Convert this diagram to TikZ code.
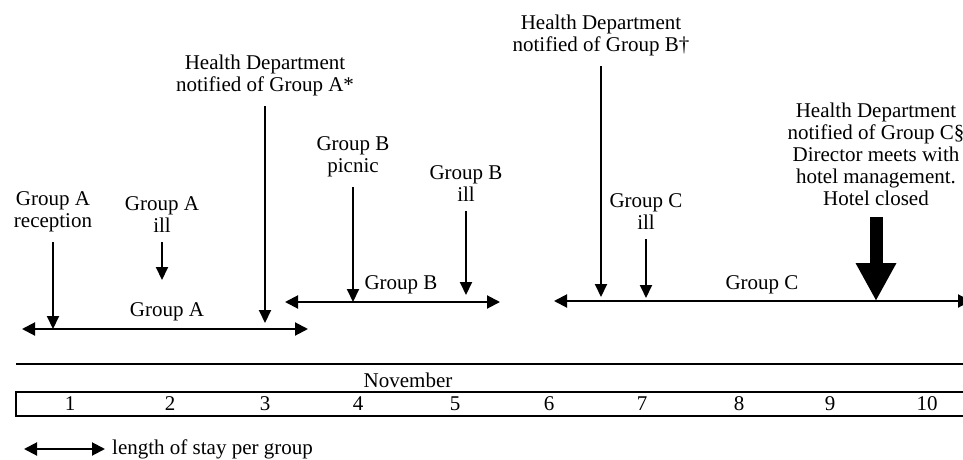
\documentclass[tikz,border=0pt]{standalone}
\usepackage{fontspec}
\setmainfont{Liberation Serif}
\usetikzlibrary{arrows.meta,positioning}

\begin{document}
\begin{tikzpicture}[
    x=1pt, y=-1pt,
    node distance=7pt,
    lbl/.style={align=center, inner sep=0pt, anchor=north, font=\fontsize{21}{22}\selectfont},
    grp/.style={inner sep=0pt, font=\fontsize{21}{22}\selectfont},
    stay/.style={{Triangle[width=13pt,length=13pt]}-{Triangle[width=13pt,length=13pt]}, line width=2pt},
    evt/.style={-{Triangle[width=12pt,length=13pt]}, line width=2pt, shorten <=10pt},
    bigevt/.style={-{Triangle[width=38pt,length=38pt]}, line width=13pt, shorten <=11pt},
    rule/.style={line width=2pt}
]
    \useasboundingbox (0,0) rectangle (963,460);

    % event labels
    \node [lbl] (recA) at (53,191) {Group A\\reception};
    \node [lbl] (illA) at (162,196) {Group A\\ill};
    \node [lbl] (hdA) at (265,55) {Health Department\\notified of Group A*};
    \node [lbl] (picB) at (353,136) {Group B\\picnic};
    \node [lbl] (illB) at (466,165) {Group B\\ill};
    \node [lbl] (hdB) at (601,15) {Health Department\\notified of Group B†};
    \node [lbl] (illC) at (646,193) {Group C\\ill};
    \node [lbl] (hdC) at (876,103) {Health Department\\notified of Group C§\\Director meets with\\hotel management.\\Hotel closed};

    % stays
    \coordinate (Aw) at (22,329);
    \coordinate (Ae) at (308,329);
    \coordinate (Bw) at (285,302);
    \coordinate (Be) at (500,302);
    \coordinate (Cw) at (554,301);
    \coordinate (Ce) at (971,301);
    \draw [stay] (Aw) -- (Ae);
    \draw [stay] (Bw) -- (Be);
    \draw [stay] (Cw) -- (Ce);
    \node [grp] (grpA) at (167,312) {Group A};
    \node [grp] (grpB) at (401,285) {Group B};
    \node [grp] (grpC) at (762,285) {Group C};

    % event arrows
    \coordinate (illAtip) at (162,280);
    \coordinate (hdAtip) at (265,323);
    \coordinate (illBtip) at (466,295);
    \coordinate (hdBtip) at (601,297);
    \coordinate (illCtip) at (646,298);
    \draw [evt] (recA.south) -- (recA.south |- Aw);
    \draw [evt] (illA.south) -- (illAtip);
    \draw [evt] (hdA.south) -- (hdAtip);
    \draw [evt] (picB.south) -- (picB.south |- Bw);
    \draw [evt] (illB.south) -- (illBtip);
    \draw [evt] (hdB.south) -- (hdBtip);
    \draw [evt] (illC.south) -- (illCtip);
    \draw [bigevt] (hdC.south) -- (hdC.south |- Cw);

    % calendar
    \draw [rule] (16,364) -- (963,364);
    \draw [rule] (963,392) -- (16,392) -- (16,416) -- (963,416);
    \node [grp] (month) at (408,380) {November};
    \foreach \d/\x in {1/70,2/170,3/265,4/358,5/455,6/549,7/642,8/739,9/830,10/927}
        \node [grp] (day\d) at (\x,404) {\d};

    % key
    \coordinate (keyW) at (24,449);
    \coordinate (keyE) at (105,449);
    \draw [stay] (keyW) -- (keyE);
    \node [grp, right=of keyE] (key) {length of stay per group};
\end{tikzpicture}
\end{document}
